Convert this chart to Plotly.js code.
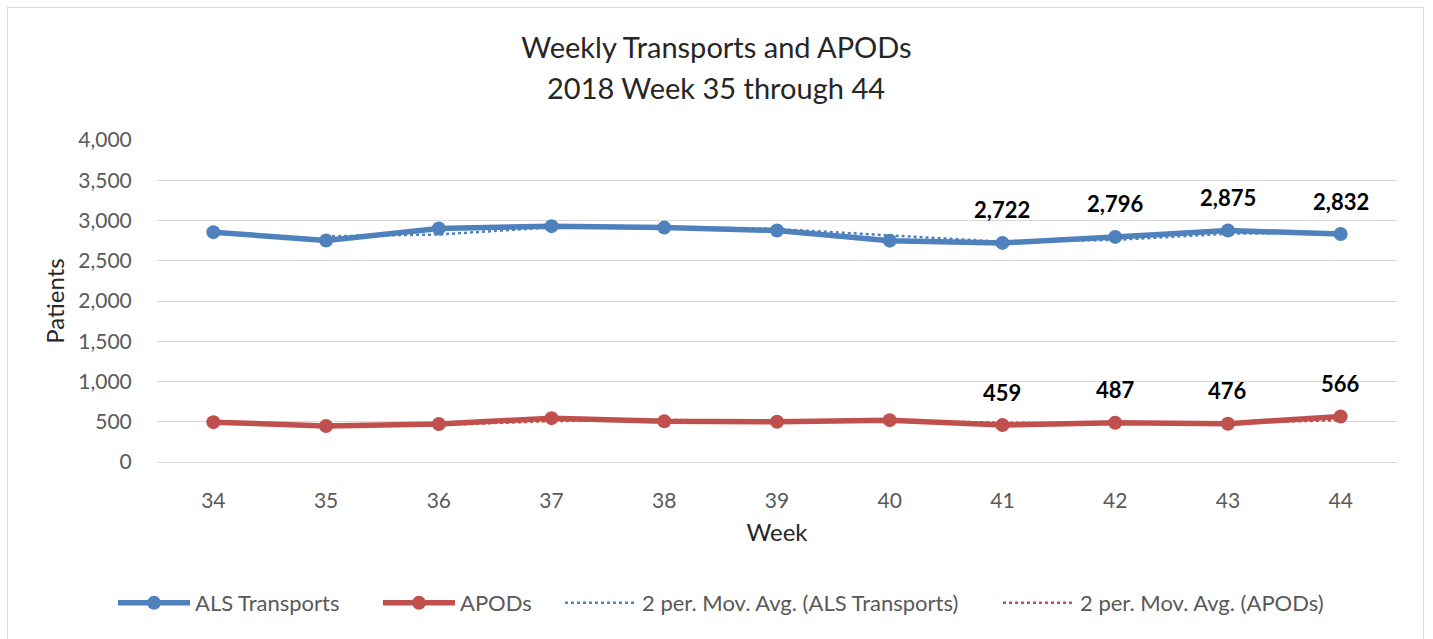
<!DOCTYPE html>
<html>
<head>
<meta charset="utf-8">
<script src="https://cdn.plot.ly/plotly-3.0.1.min.js"></script>
<style>
  html, body { margin: 0; padding: 0; background: #fff; }
  #wrap { position: relative; width: 1433px; height: 639px; }
  #chart { width: 1433px; height: 639px; }
  #frame { position: absolute; left: 7px; top: 7px; width: 1417px; height: 640px;
           border: 1px solid #d9d9d9; pointer-events: none; box-sizing: border-box; }
</style>
</head>
<body>
<div id="wrap">
  <div id="chart"></div>
  <div id="frame"></div>
</div>
<script>
// ---- data ----
const weeks = ["34", "35", "36", "37", "38", "39", "40", "41", "42", "43", "44"];
const alsTransports = [2855, 2752, 2900, 2930, 2912, 2876, 2750, 2722, 2796, 2875, 2832];
const apods = [495, 447, 472, 545, 505, 500, 520, 459, 487, 476, 566];
const seriesNames = ["ALS Transports", "APODs", "2 per. Mov. Avg. (ALS Transports)", "2 per. Mov. Avg. (APODs)"];
const labelFromIndex = 7; // data labels shown for weeks 41-44

// 2-period moving average (Excel trendline definition)
function movingAvg2(arr) {
  return arr.map((v, i) => i === 0 ? null : (arr[i] + arr[i - 1]) / 2);
}
const alsMA = movingAvg2(alsTransports);
const apodsMA = movingAvg2(apods);

const BLUE = "#4f81bd";
const RED = "#c0504d";
const FONT = "Lato, 'Open Sans', sans-serif";

const traces = [
  {
    x: weeks, y: alsTransports, name: seriesNames[0], type: "scatter", mode: "lines+markers",
    line: { color: BLUE, width: 5.5 }, marker: { color: BLUE, size: 14 }, legend: "legend"
  },
  {
    x: weeks, y: apods, name: seriesNames[1], type: "scatter", mode: "lines+markers",
    line: { color: RED, width: 5.5 }, marker: { color: RED, size: 14 }, legend: "legend2"
  },
  {
    x: weeks, y: alsMA, name: seriesNames[2], type: "scatter", mode: "lines",
    line: { color: BLUE, width: 2.5, dash: "dot" }, legend: "legend3"
  },
  {
    x: weeks, y: apodsMA, name: seriesNames[3], type: "scatter", mode: "lines",
    line: { color: RED, width: 2.5, dash: "dot" }, legend: "legend4"
  }
];

const fmt = v => v.toLocaleString("en-US");
const labelFont = { family: FONT, size: 22, color: "#000" };
const annotations = [];
for (let i = labelFromIndex; i < weeks.length; i++) {
  annotations.push({ x: i, y: alsTransports[i], text: "<b>" + fmt(alsTransports[i]) + "</b>",
    showarrow: false, yshift: 33, font: labelFont });
  annotations.push({ x: i, y: apods[i], text: "<b>" + fmt(apods[i]) + "</b>",
    showarrow: false, yshift: 33, font: labelFont });
}
annotations.push({
  xref: "paper", yref: "paper", x: 0.4508, y: 1.1615, xanchor: "center", yanchor: "middle",
  text: "2018 Week 35 through 44", showarrow: false, font: { family: FONT, size: 29, color: "#262626" }
});

function legendAt(x) {
  return {
    orientation: "h", x: x, xanchor: "left", y: -0.438, yanchor: "middle",
    font: { family: FONT, size: 22, color: "#595959" },
    itemwidth: 72, bgcolor: "rgba(0,0,0,0)"
  };
}

const layout = {
  width: 1433, height: 639,
  margin: { l: 157, r: 36, t: 140, b: 177 },
  paper_bgcolor: "#fff", plot_bgcolor: "#fff",
  font: { family: FONT, color: "#595959" },
  title: {
    text: "Weekly Transports and APODs",
    x: 0.5, xref: "container", y: 1 - 48 / 639, yref: "container",
    xanchor: "center", yanchor: "middle",
    font: { family: FONT, size: 29, color: "#262626" }
  },
  xaxis: {
    type: "category", range: [-0.5, 10.5],
    showgrid: false, zeroline: false, showline: false,
    ticks: "outside", ticklen: 20, tickcolor: "rgba(0,0,0,0)",
    tickfont: { family: FONT, size: 21, color: "#595959" },
    title: { text: "Week", standoff: 12, font: { family: FONT, size: 24, color: "#262626" } }
  },
  yaxis: {
    range: [0, 4000], dtick: 500, tickformat: ",d",
    showgrid: true, gridcolor: "#d9d9d9", gridwidth: 1,
    zeroline: true, zerolinecolor: "#d9d9d9", zerolinewidth: 1, showline: false,
    ticks: "outside", ticklen: 20, tickcolor: "rgba(0,0,0,0)",
    tickfont: { family: FONT, size: 21, color: "#595959" },
    title: { text: "Patients", standoff: 6, font: { family: FONT, size: 24, color: "#262626" } }
  },
  showlegend: true,
  legend: legendAt((118 - 157 - 5) / 1240),
  legend2: legendAt((383 - 157 - 5) / 1240),
  legend3: legendAt((565 - 157 - 5) / 1240),
  legend4: legendAt((1003 - 157 - 5) / 1240),
  annotations: annotations
};

Plotly.newPlot("chart", traces, layout, { displayModeBar: false, staticPlot: true });
</script>
</body>
</html>
